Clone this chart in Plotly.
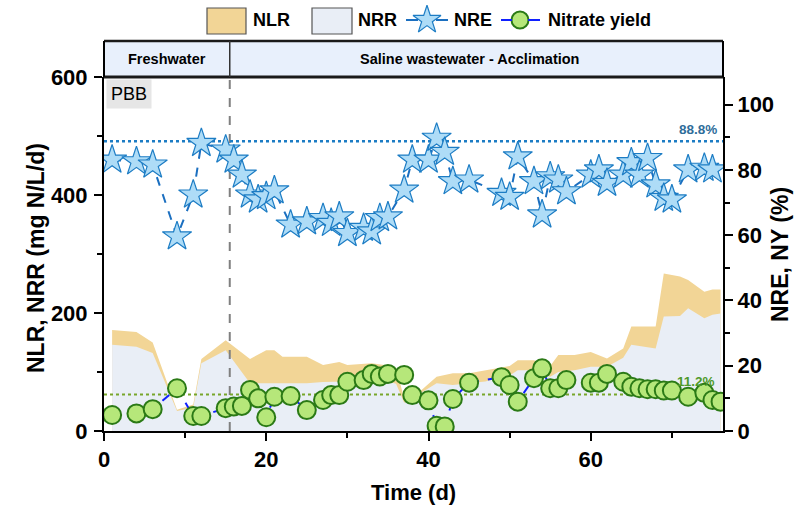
import plotly.graph_objects as go

# ---- data -------------------------------------------------------------
# Daily loading / removal rates (mg N/L/d)
days_load = [1, 4, 6, 9, 11, 12, 15, 18, 20, 21, 22, 25, 27, 29, 30, 33, 35, 36, 37, 39,
             41, 43, 45, 47, 50, 51, 53, 55, 56, 58, 60, 62, 64, 65, 68, 69, 71, 72, 74, 75, 76]
nlr = [171, 168, 150, 36, 45, 122, 154, 122, 137, 137, 126, 126, 112, 117, 112, 115, 111, 107, 55, 68,
       92, 98, 98, 103, 110, 120, 120, 110, 129, 129, 134, 123, 140, 177, 177, 267, 262, 256, 236, 240, 240]
nrr = [146, 143, 132, 34, 40, 115, 137, 81, 81, 81, 81, 81, 83, 84, 84, 84, 84, 80, 48, 64,
       81, 78, 81, 84, 94, 103, 103, 92, 100, 103, 109, 109, 124, 146, 140, 194, 195, 208, 191, 197, 199]

# Nitrogen removal efficiency (%)
days_nre = [1, 4, 6, 9, 11, 12, 15, 16, 17, 18, 19, 20, 21, 23, 25, 27, 28, 29, 30, 32, 33, 34, 35, 37,
            38, 40, 41, 42, 43, 45, 49, 50, 51, 53, 54, 55, 56, 57, 60, 61, 62, 64, 65, 66, 67, 68,
            69, 70, 72, 74, 75]
nre = [83.1, 82.6, 81.6, 59.6, 72.4, 88.2, 86.2, 83.1, 78.5, 72.4, 70.9, 71.9, 73.7, 63.2, 64.2, 65.2,
       63.7, 65.7, 60.6, 62.2, 61.1, 65.2, 65.7, 73.9, 83.1, 83.1, 89.8, 85.5, 76.5, 77.0, 72.9, 71.7,
       84.1, 76.5, 66.3, 78.0, 77.0, 73.4, 78.5, 80.1, 76.0, 78.5, 82.3, 78.5, 83.6, 75.5, 71.4, 70.9,
       80.1, 80.6, 80.1]

# Nitrate yield (%)
days_ny = [1, 4, 6, 9, 11, 12, 15, 16, 17, 18, 19, 20, 21, 23, 25, 27, 28, 29, 30, 32, 33, 34, 35, 37,
           38, 40, 41, 42, 43, 45, 49, 50, 51, 53, 54, 55, 56, 57, 60, 61, 62, 64, 65, 66, 67, 68,
           69, 70, 72, 74, 75, 76]
ny = [4.9, 5.4, 6.7, 13.1, 4.6, 4.6, 7.0, 7.5, 7.7, 12.6, 10.0, 4.2, 10.5, 10.7, 6.4, 9.5, 11.0, 11.0,
      15.1, 15.6, 17.5, 16.7, 17.5, 17.2, 11.0, 9.4, 1.6, 1.4, 9.8, 14.8, 16.5, 14.1, 9.0, 16.2, 19.2,
      13.1, 13.1, 15.6, 14.8, 14.8, 17.5, 15.1, 13.6, 13.1, 12.8, 12.8, 12.4, 12.4, 10.5, 11.7, 9.5, 9.0]

ref_nre = 88.8     # reference NRE level (%)
ref_ny = 11.2      # reference nitrate yield level (%)
phase_switch = 15.5
phases = ["Freshwater", "Saline wastewater - Acclimation"]
x_ticks = [0, 20, 40, 60]
y_left_ticks = [0, 200, 400, 600]
y_right_ticks = [0, 20, 40, 60, 80, 100]

# ---- geometry helpers (figure pixels -> paper fraction) ---------------
W, H = 796, 509
PL, PR, PT, PB = 104, 723, 77, 431
X_MAX, Y2_MAX = 76.3, 108.5


def fx(px):
    return px / W


def fy(py):
    return 1 - py / H


SANS = "Liberation Sans, Arial, sans-serif"

C_NLR = "#f2d596"
C_NRR = "#e9eef6"
C_NRE_LINE = "#1b6fc0"
C_STAR = "#aedcf7"
C_STAR_EDGE = "#1c7cc4"
C_NY_LINE = "#1020ff"
C_CIRCLE = "#b6e77a"
C_CIRCLE_EDGE = "#2b7a16"

fig = go.Figure()

# loading / removal areas (left axis)
fig.add_trace(go.Scatter(x=days_load, y=nlr, mode="lines", fill="tozeroy", fillcolor=C_NLR,
                         line=dict(width=0, color=C_NLR), name="NLR", showlegend=False,
                         xaxis="x", yaxis="y", hoverinfo="skip"))
fig.add_trace(go.Scatter(x=days_load, y=nrr, mode="lines", fill="tozeroy", fillcolor=C_NRR,
                         line=dict(width=0, color=C_NRR), name="NRR", showlegend=False,
                         xaxis="x", yaxis="y", hoverinfo="skip"))
# phase boundary
fig.add_trace(go.Scatter(x=[phase_switch, phase_switch], y=[0, 600], mode="lines",
                         line=dict(color="#808080", width=2, dash="dash"), showlegend=False,
                         xaxis="x", yaxis="y", hoverinfo="skip"))

# reference levels (right axis)
fig.add_trace(go.Scatter(x=[0, X_MAX], y=[ref_nre, ref_nre], mode="lines",
                         line=dict(color=C_STAR_EDGE, width=2.5, dash="dot"), showlegend=False,
                         xaxis="x", yaxis="y2", hoverinfo="skip"))
fig.add_trace(go.Scatter(x=[0, X_MAX], y=[ref_ny, ref_ny], mode="lines",
                         line=dict(color="#78a62a", width=2, dash="3px,3px"), showlegend=False,
                         xaxis="x", yaxis="y2", hoverinfo="skip"))

# NRE and nitrate yield series
fig.add_trace(go.Scatter(x=days_nre, y=nre, mode="lines+markers", name="NRE", showlegend=False,
                         line=dict(color=C_NRE_LINE, width=2, dash="dash"),
                         marker=dict(symbol="star", size=22, color=C_STAR,
                                     line=dict(color=C_STAR_EDGE, width=1.2)),
                         xaxis="x", yaxis="y2"))
fig.add_trace(go.Scatter(x=days_ny, y=ny, mode="lines+markers", name="Nitrate yield", showlegend=False,
                         line=dict(color=C_NY_LINE, width=2, dash="dash"),
                         marker=dict(symbol="circle", size=18, color=C_CIRCLE,
                                     line=dict(color=C_CIRCLE_EDGE, width=2)),
                         xaxis="x", yaxis="y2"))

# legend glyph markers (pixel-space helper axis)
fig.add_trace(go.Scatter(x=[427], y=[20], mode="markers", showlegend=False, hoverinfo="skip",
                         marker=dict(symbol="star", size=21, color=C_STAR,
                                     line=dict(color=C_STAR_EDGE, width=1.2)),
                         xaxis="x3", yaxis="y3"))
fig.add_trace(go.Scatter(x=[520], y=[20], mode="markers", showlegend=False, hoverinfo="skip",
                         marker=dict(symbol="circle", size=17, color=C_CIRCLE,
                                     line=dict(color=C_CIRCLE_EDGE, width=2)),
                         xaxis="x3", yaxis="y3"))

tickfont = dict(family=SANS, size=22, color="black", weight="bold")
axis_common = dict(showgrid=False, zeroline=False, showline=True, linecolor="black", linewidth=2,
                   ticks="outside", ticklen=8, tickwidth=2, tickcolor="black", tickfont=tickfont)

shapes = []
# header band
shapes.append(dict(type="rect", xref="paper", yref="paper", x0=fx(PL), x1=fx(PR), y0=fy(PT), y1=fy(41),
                   fillcolor="#e8f0fc", line=dict(width=0), layer="below"))
shapes.append(dict(type="line", xref="paper", yref="paper", x0=fx(PL), x1=fx(PR), y0=fy(41), y1=fy(41),
                   line=dict(color="#1a1a1a", width=2.5)))
shapes.append(dict(type="line", xref="paper", yref="paper", x0=fx(PL), x1=fx(PR), y0=fy(PT), y1=fy(PT),
                   line=dict(color="#1a1a1a", width=3)))
shapes.append(dict(type="line", xref="paper", yref="paper", x0=fx(PL), x1=fx(PL), y0=fy(PT), y1=fy(41),
                   line=dict(color="black", width=2)))
shapes.append(dict(type="line", xref="paper", yref="paper", x0=fx(PR), x1=fx(PR), y0=fy(PT), y1=fy(41),
                   line=dict(color="black", width=2)))
shapes.append(dict(type="line", xref="x", yref="paper", x0=phase_switch, x1=phase_switch,
                   y0=fy(PT), y1=fy(41), line=dict(color="#333333", width=1.5)))
# legend boxes and dashes
shapes.append(dict(type="rect", xref="x3", yref="y3", x0=207, x1=246, y0=8, y1=34,
                   fillcolor=C_NLR, line=dict(color="#555555", width=1.2)))
shapes.append(dict(type="rect", xref="x3", yref="y3", x0=312, x1=352, y0=8, y1=34,
                   fillcolor=C_NRR, line=dict(color="#555555", width=1.2)))
for a, b, c in [(406, 418, C_NRE_LINE), (436, 448, C_NRE_LINE), (501, 512, C_NY_LINE), (528, 540, C_NY_LINE)]:
    shapes.append(dict(type="line", xref="x3", yref="y3", x0=a, x1=b, y0=20, y1=20,
                       line=dict(color=c, width=2)))


def note(text, x, y, font, xref="paper", yref="paper", **kw):
    d = dict(text=text, xref=xref, yref=yref, x=x, y=y, showarrow=False, font=font,
             xanchor="center", yanchor="middle")
    d.update(kw)
    return d


annotations = []
title_font = dict(family=SANS, size=23, color="black", weight="bold")
annotations.append(note("NLR, NRR (mg N/L/d)", fx(36), fy(258), title_font, textangle=-90))
annotations.append(note("NRE, NY (%)", fx(780), fy(255), title_font, textangle=-90))
annotations.append(note("Time (d)", fx(413), fy(492), dict(family=SANS, size=22, color="black", weight="bold")))
band_font = dict(family=SANS, size=14.5, color="black", weight="bold")
annotations.append(note(phases[0], fx(167), fy(59), band_font))
annotations.append(note(phases[1], fx(470), fy(59), band_font))
annotations.append(note("PBB", fx(106), fy(79), dict(family=SANS, size=18, color="black"),
                        xanchor="left", yanchor="top", bgcolor="#e6e6e6", borderpad=4))
annotations.append(note(f"{ref_nre}%", 73.2, ref_nre, dict(family=SANS, size=13.5, color="#2f6d9a", weight="bold"),
                        xref="x", yref="y2", yshift=12))
annotations.append(note(f"{ref_ny}%", 73.0, ref_ny, dict(family=SANS, size=13.5, color="#4f9a2a", weight="bold"),
                        xref="x", yref="y2", yshift=13))
leg_font = dict(family=SANS, size=18, color="black", weight="bold")
for xt, label in [(251, "NLR"), (356, "NRR"), (452, "NRE"), (546, "Nitrate yield")]:
    annotations.append(note(label, xt, 20, leg_font, xref="x3", yref="y3", xanchor="left"))

fig.update_layout(
    width=W, height=H, autosize=False,
    margin=dict(l=0, r=0, t=0, b=0, pad=0, autoexpand=False),
    paper_bgcolor="white", plot_bgcolor="rgba(0,0,0,0)",
    showlegend=False,
    xaxis=dict(domain=[fx(PL), fx(PR)], range=[0, X_MAX], anchor="y", tickmode="array",
               tickvals=x_ticks, minor=dict(tickvals=[10, 30, 50, 70], ticks="outside", ticklen=5,
                                             tickwidth=2, tickcolor="black"),
               **axis_common),
    yaxis=dict(domain=[fy(PB), fy(PT)], range=[0, 600], anchor="x", tickmode="array",
               tickvals=y_left_ticks, ticklabelstandoff=2,
               minor=dict(tickvals=[100, 300, 500], ticks="outside", ticklen=5,
                          tickwidth=2, tickcolor="black"),
               **axis_common),
    yaxis2=dict(overlaying="y", side="right", anchor="x", range=[0, Y2_MAX], tickmode="array",
                tickvals=y_right_ticks, minor=dict(tickvals=[10, 30, 50, 70, 90], ticks="outside",
                                                    ticklen=5, tickwidth=2, tickcolor="black"),
                **axis_common),
    xaxis3=dict(domain=[0, 1], range=[0, W], anchor="y3", visible=False, fixedrange=True),
    yaxis3=dict(domain=[0, 1], range=[H, 0], anchor="x3", visible=False, fixedrange=True),
    shapes=shapes,
    annotations=annotations,
)

fig.write_html("out.html")
